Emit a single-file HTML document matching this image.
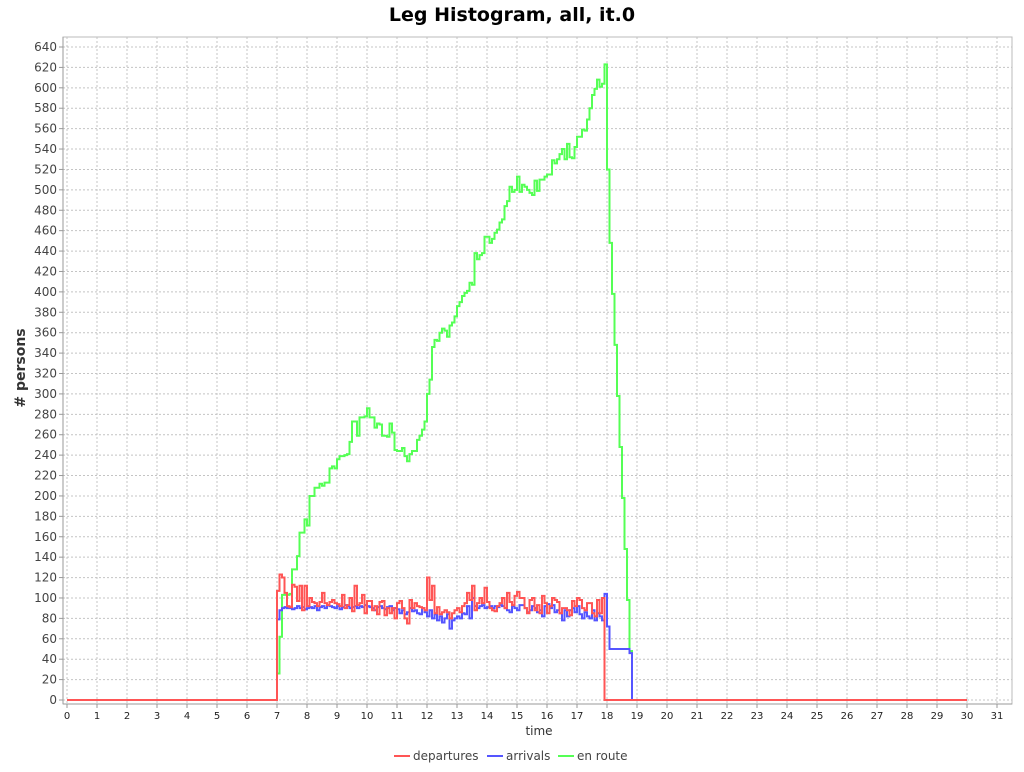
<!DOCTYPE html>
<html><head><meta charset="utf-8"><style>
body{margin:0;background:#fff;font-family:"DejaVu Sans","Liberation Sans",sans-serif}
svg text{font-family:"DejaVu Sans","Liberation Sans",sans-serif}
</style></head><body>
<svg id="chart" width="1024" height="768" xmlns="http://www.w3.org/2000/svg">
<rect x="0" y="0" width="1024" height="768" fill="#fff"/>
<text x="512" y="21" text-anchor="middle" font-size="19" font-weight="bold">Leg Histogram, all, it.0</text>
<g id="grid"></g>
<g id="axes"></g>
<g id="series"></g>
<text x="539" y="735" text-anchor="middle" font-size="12" fill="#333">time</text>
<text transform="translate(25,368) rotate(-90)" text-anchor="middle" font-size="14" font-weight="bold" fill="#333">#&#160;persons</text>
<g>
<g><line x1="394" y1="756" x2="410" y2="756" stroke="#ff5555" stroke-width="2"/><text x="413" y="760" font-size="12" fill="#444">departures</text></g>
<g><line x1="487" y1="756" x2="503" y2="756" stroke="#5555ff" stroke-width="2"/><text x="506" y="760" font-size="12" fill="#444">arrivals</text></g>
<g><line x1="558" y1="756" x2="574" y2="756" stroke="#55ff55" stroke-width="2"/><text x="577" y="760" font-size="12" fill="#444">en route</text></g>
</g>
</svg>
<script>
const xTicks=[0,1,2,3,4,5,6,7,8,9,10,11,12,13,14,15,16,17,18,19,20,21,22,23,24,25,26,27,28,29,30,31];
const yTicks=[0,20,40,60,80,100,120,140,160,180,200,220,240,260,280,300,320,340,360,380,400,420,440,460,480,500,520,540,560,580,600,620,640];
const binStart=7, binHours=1/12, endHour=30;
const departures=[107,123,120,105,92,91,113,111,97,112,88,112,92,100,96,95,92,96,105,95,93,96,98,95,94,92,103,90,93,100,87,112,93,95,103,85,97,97,88,92,84,96,97,83,90,85,90,80,95,97,90,80,75,98,90,95,92,91,90,88,120,98,112,85,91,
84,86,88,86,80,85,88,90,86,92,95,105,98,112,88,95,100,95,110,96,90,88,87,92,95,100,90,105,96,93,102,106,100,100,90,85,98,100,88,93,85,102,95,85,92,100,98,96,85,90,90,88,83,97,92,100,98,90,88,95,95,85,82,98,85,100,0,0,0,0,0,0,0,0,0,0,0,0];
const arrivals=[79,88,90,91,90,90,89,90,92,90,91,89,90,91,90,92,88,91,92,90,93,92,91,90,92,89,91,93,92,90,91,92,90,92,91,93,92,91,90,88,91,92,90,89,91,92,88,90,89,85,88,84,86,90,87,88,85,84,90,86,82,88,80,84,78,
82,76,80,84,70,78,80,82,80,85,84,92,80,100,92,90,92,93,90,91,92,90,92,91,93,92,90,88,86,92,90,88,93,93,90,86,88,92,90,86,88,82,92,94,90,93,86,88,85,78,88,82,88,90,86,92,84,80,86,82,80,88,78,85,82,78,104,72,50,50,50,50,50,50,50,50,46,0,0];
const enRoute=[26,62,103,103,103,104,128,128,141,164,164,177,171,200,200,208,208,212,210,213,213,227,229,227,236,239,239,240,241,253,273,273,259,277,277,278,286,277,277,267,271,270,259,259,258,271,262,245,244,244,247,239,234,241,244,244,255,259,265,273,300,314,346,353,352,
360,364,362,356,367,370,376,386,390,396,399,401,409,407,438,432,436,438,454,454,448,452,458,461,468,471,484,489,503,498,500,513,498,505,503,500,497,495,509,499,510,510,513,515,515,529,526,530,535,540,530,545,532,531,542,552,552,559,558,569,580,593,599,608,601,604,623,520,448,398,348,298,248,198,148,98,48,0,0];
const X0=67,PX=30,Y0=700,PY=653/640;
const sx=h=>X0+h*PX, sy=v=>Y0-v*PY;
const NS='http://www.w3.org/2000/svg';
function mk(tag,attrs,parent){const e=document.createElementNS(NS,tag);for(const k in attrs)e.setAttribute(k,attrs[k]);parent.appendChild(e);return e;}
const grid=document.getElementById('grid'),axes=document.getElementById('axes'),series=document.getElementById('series');
mk('rect',{x:63,y:37,width:949,height:667,fill:'#fff',stroke:'#bbb','stroke-width':1},grid);
xTicks.forEach(t=>{
  const l=mk('line',{x1:sx(t),x2:sx(t),y1:37,y2:704,stroke:'#c4c4c4','stroke-dasharray':'2,2','stroke-width':1},grid);
  
  
  mk('line',{x1:sx(t),x2:sx(t),y1:704,y2:708,stroke:'#999'},axes);
  const tx=mk('text',{x:sx(t),y:719,'text-anchor':'middle','font-size':10,fill:'#222'},axes);
  tx.textContent=t;
  
  
});
yTicks.forEach(t=>{
  const l=mk('line',{x1:63,x2:1012,y1:sy(t),y2:sy(t),stroke:'#c4c4c4','stroke-dasharray':'2,2','stroke-width':1},grid);
  
  
  mk('line',{x1:59,x2:63,y1:sy(t),y2:sy(t),stroke:'#999'},axes);
  const tx=mk('text',{x:57,y:sy(t)+4,'text-anchor':'end','font-size':12,fill:'#444'},axes);
  tx.textContent=t;
  
  
});
mk('line',{x1:63,x2:63,y1:37,y2:704,stroke:'#999'},axes);
mk('line',{x1:63,x2:1012,y1:704,y2:704,stroke:'#999'},axes);
function stepPath(vals){
  let d='M'+sx(0)+','+sy(0)+' L'+sx(binStart)+','+sy(0);
  for(let i=0;i<vals.length;i++){
    const v=vals[i]||0,h=binStart+i*binHours;
    d+=' L'+sx(h).toFixed(2)+','+sy(v).toFixed(2)+' L'+sx(h+binHours).toFixed(2)+','+sy(v).toFixed(2);
  }
  d+=' L'+sx(binStart+vals.length*binHours).toFixed(2)+','+sy(0)+' L'+sx(endHour)+','+sy(0);
  return d;
}
const p1=mk('path',{d:stepPath(enRoute),fill:'none',stroke:'#55ff55','stroke-width':2},series);


const p2=mk('path',{d:stepPath(arrivals),fill:'none',stroke:'#5555ff','stroke-width':2},series);


const p3=mk('path',{d:stepPath(departures),fill:'none',stroke:'#ff5555','stroke-width':2},series);


</script>
</body></html>
